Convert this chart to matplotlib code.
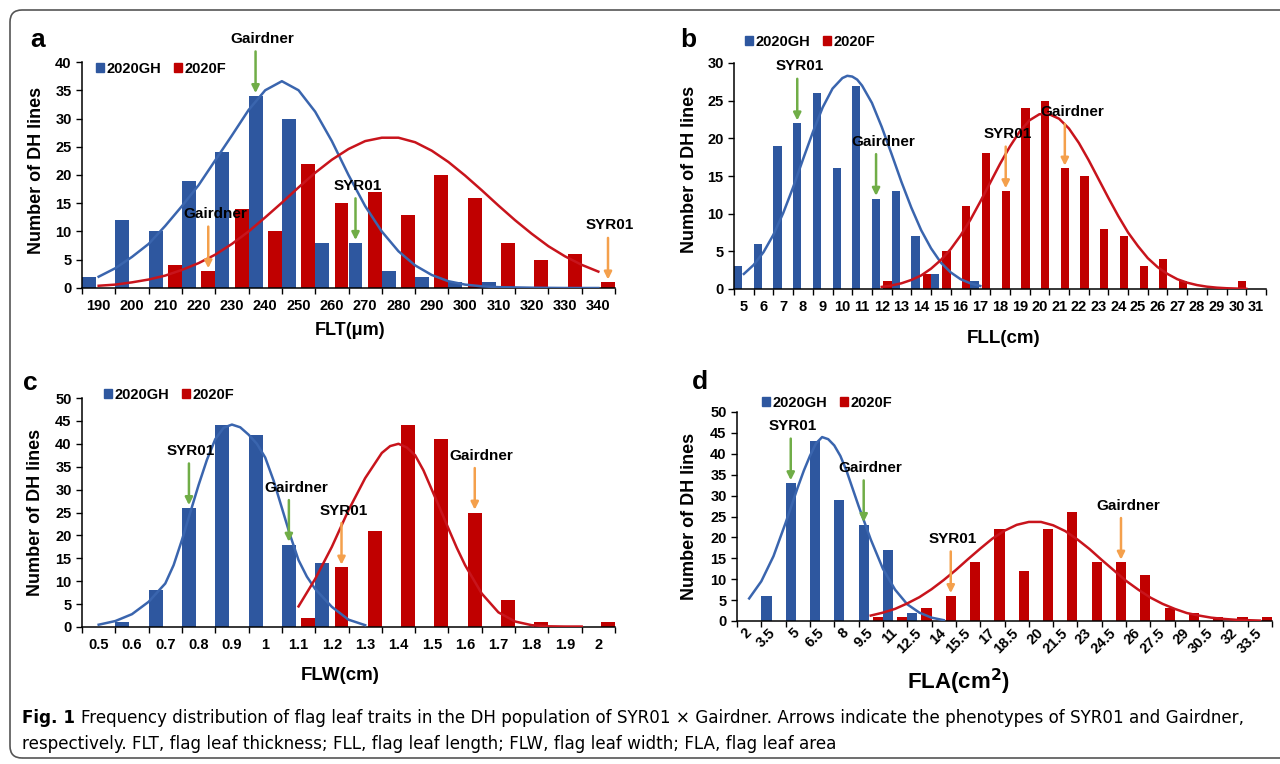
import matplotlib
matplotlib.use('Agg')
import matplotlib.pyplot as plt
from matplotlib.patches import Patch, FancyBboxPatch

# ---------------- data ----------------
# (a) flag leaf thickness, um
flt_bins = [190, 200, 210, 220, 230, 240, 250, 260, 270, 280, 290, 300, 310, 320, 330, 340]
flt_labels = ['190', '200', '210', '220', '230', '240', '250', '260', '270', '280', '290', '300',
              '310', '320', '330', '340']
flt_gh = [2, 12, 10, 19, 24, 34, 30, 8, 8, 3, 2, 1, 1, 0, 0, 0]
flt_f = [0, 0, 4, 3, 14, 10, 22, 15, 17, 13, 20, 16, 8, 5, 6, 1]
flt_gh_fit_x = [190, 195, 200, 205, 210, 215, 220, 225, 230, 235, 240, 245, 250, 255, 260, 265,
                270, 275, 280, 285, 290, 295, 300, 305, 310, 320, 330, 340]
flt_gh_fit_y = [2.0, 3.5, 5.5, 7.8, 11.0, 14.5, 18.2, 22.6, 27.0, 31.5, 35.0, 36.6, 35.0, 31.2,
                26.0, 20.0, 14.5, 10.0, 6.5, 4.0, 2.3, 1.2, 0.6, 0.3, 0.15, 0.05, 0.0, 0.0]
flt_f_fit_x = [190, 195, 200, 205, 210, 215, 220, 225, 230, 235, 240, 245, 250, 255, 260, 265,
               270, 275, 280, 285, 290, 295, 300, 305, 310, 315, 320, 325, 330, 335, 340]
flt_f_fit_y = [0.4, 0.6, 1.0, 1.5, 2.2, 3.2, 4.4, 5.9, 7.8, 10.0, 12.5, 15.1, 17.8, 20.4, 22.7,
               24.6, 26.0, 26.6, 26.6, 25.8, 24.3, 22.3, 19.9, 17.3, 14.6, 12.0, 9.6, 7.4, 5.6,
               4.1, 2.9]
flt_marks = [('Gairdner', 240, 'GH'), ('SYR01', 270, 'GH'), ('Gairdner', 220, 'F'), ('SYR01', 340, 'F')]

# (b) flag leaf length, cm
fll_bins = list(range(5, 32))
fll_labels = [str(v) for v in fll_bins]
fll_gh = [3, 6, 19, 22, 26, 16, 27, 12, 13, 7, 2, 0, 1, 0, 0, 0, 0, 0, 0, 0, 0, 0, 0, 0, 0, 0, 0]
fll_f = [0, 0, 0, 0, 0, 0, 0, 1, 0, 2, 5, 11, 18, 13, 24, 25, 16, 15, 8, 7, 3, 4, 1, 0, 0, 1, 0]
fll_gh_fit_x = [5, 5.5, 6, 6.5, 7, 7.5, 8, 8.5, 9, 9.5, 10, 10.25, 10.5, 10.75, 11, 11.5, 12,
                12.5, 13, 13.5, 14, 14.5, 15, 15.5, 16, 16.5, 17]
fll_gh_fit_y = [2.0, 3.2, 4.9, 7.2, 10.1, 13.5, 17.2, 20.8, 24.1, 26.6, 28.0, 28.3, 28.2, 27.8,
                27.0, 24.7, 21.5, 17.9, 14.2, 10.8, 7.8, 5.4, 3.5, 2.2, 1.3, 0.75, 0.4]
fll_f_fit_x = [12, 12.5, 13, 13.5, 14, 14.5, 15, 15.5, 16, 16.5, 17, 17.5, 18, 18.5, 19, 19.5,
               20, 20.5, 21, 21.5, 22, 22.5, 23, 23.5, 24, 24.5, 25, 25.5, 26, 26.5, 27, 27.5,
               28, 28.5, 29, 29.5, 30, 30.5]
fll_f_fit_y = [0.28, 0.47, 0.76, 1.2, 1.8, 2.7, 3.85, 5.3, 7.1, 9.2, 11.6, 14.1, 16.6, 18.9,
               20.9, 22.4, 23.2, 23.2, 22.6, 21.3, 19.4, 17.1, 14.6, 12.1, 9.7, 7.5, 5.7, 4.1,
               2.9, 2.0, 1.3, 0.84, 0.52, 0.31, 0.18, 0.1, 0.06, 0.03]
fll_marks = [('SYR01', 8, 'GH'), ('Gairdner', 12, 'GH'), ('SYR01', 18, 'F'), ('Gairdner', 21, 'F')]

# (c) flag leaf width, cm
flw_bins = [0.5, 0.6, 0.7, 0.8, 0.9, 1.0, 1.1, 1.2, 1.3, 1.4, 1.5, 1.6, 1.7, 1.8, 1.9, 2.0]
flw_labels = ['0.5', '0.6', '0.7', '0.8', '0.9', '1', '1.1', '1.2', '1.3', '1.4', '1.5', '1.6',
              '1.7', '1.8', '1.9', '2']
flw_gh = [0, 1, 8, 26, 44, 42, 18, 14, 0, 0, 0, 0, 0, 0, 0, 0]
flw_f = [0, 0, 0, 0, 0, 0, 2, 13, 21, 44, 41, 25, 6, 1, 0, 1]
flw_gh_fit_x = [0.5, 0.55, 0.6, 0.65, 0.7, 0.725, 0.75, 0.775, 0.8, 0.825, 0.85, 0.875, 0.9,
                0.925, 0.95, 0.975, 1.0, 1.025, 1.05, 1.075, 1.1, 1.125, 1.15, 1.2, 1.25, 1.3]
flw_gh_fit_y = [0.5, 1.3, 2.8, 5.5, 9.5, 13.5, 19.0, 25.0, 31.0, 36.5, 41.0, 43.5, 44.2, 43.6,
                42.0, 40.0, 37.0, 32.0, 26.0, 20.0, 14.6, 11.0, 8.3, 4.4, 1.6, 0.4]
flw_f_fit_x = [1.1, 1.15, 1.2, 1.25, 1.3, 1.35, 1.375, 1.4, 1.425, 1.45, 1.475, 1.5, 1.525,
               1.55, 1.575, 1.6, 1.65, 1.7, 1.75, 1.8, 1.85, 1.9, 1.95]
flw_f_fit_y = [4.5, 10.5, 17.5, 25.5, 32.5, 38.0, 39.5, 40.0, 39.2, 37.5, 34.2, 30.0, 25.8,
               21.5, 17.3, 13.5, 7.3, 3.2, 1.2, 0.4, 0.15, 0.1, 0.1]
flw_marks = [('SYR01', 0.8, 'GH'), ('Gairdner', 1.1, 'GH'), ('SYR01', 1.2, 'F'), ('Gairdner', 1.6, 'F')]

# (d) flag leaf area, cm2
fla_bins = [2, 3.5, 5, 6.5, 8, 9.5, 11, 12.5, 14, 15.5, 17, 18.5, 20, 21.5, 23, 24.5, 26, 27.5,
            29, 30.5, 32, 33.5]
fla_labels = ['2', '3.5', '5', '6.5', '8', '9.5', '11', '12.5', '14', '15.5', '17', '18.5', '20',
              '21.5', '23', '24.5', '26', '27.5', '29', '30.5', '32', '33.5']
fla_gh = [0, 6, 33, 43, 29, 23, 17, 2, 0, 0, 0, 0, 0, 0, 0, 0, 0, 0, 0, 0, 0, 0]
fla_f = [0, 0, 0, 0, 0, 1, 1, 3, 6, 14, 22, 12, 22, 26, 14, 14, 11, 3, 2, 1, 1, 1]
fla_gh_fit_x = [2, 2.75, 3.5, 4.25, 5, 5.375, 5.75, 6.125, 6.5, 6.875, 7.25, 7.625, 8, 8.75,
                9.5, 10.25, 11, 11.75, 12.5, 13.25, 14]
fla_gh_fit_y = [5.4, 9.5, 15.5, 23.5, 32.0, 36.0, 39.5, 42.5, 44.0, 43.5, 42.0, 39.5, 36.0, 27.5,
                19.5, 12.5, 7.5, 4.0, 2.0, 0.8, 0.2]
fla_f_fit_x = [9.5, 10.25, 11, 11.75, 12.5, 13.25, 14, 14.75, 15.5, 16.25, 17, 17.75, 18.5,
               19.25, 20, 20.75, 21.5, 22.25, 23, 23.75, 24.5, 25.25, 26, 26.75, 27.5, 28.25,
               29, 29.75, 30.5, 31.25, 32, 32.75, 33.5]
fla_f_fit_y = [1.3, 2.0, 2.9, 4.2, 5.7, 7.6, 9.8, 12.2, 14.8, 17.3, 19.7, 21.6, 23.0, 23.7, 23.7,
               22.9, 21.5, 19.5, 17.2, 14.6, 12.1, 9.6, 7.5, 5.6, 4.1, 2.9, 1.9, 1.3, 0.8, 0.5,
               0.3, 0.2, 0.1]
fla_marks = [('SYR01', 5, 'GH'), ('Gairdner', 9.5, 'GH'), ('SYR01', 14, 'F'), ('Gairdner', 24.5, 'F')]

# ---------------- style ----------------
plt.rcParams['font.family'] = ['Liberation Sans', 'DejaVu Sans']
plt.rcParams['font.weight'] = 'bold'

BLUE = '#2E579F'
RED = '#C00000'
BLUE_LINE = '#3A65AE'
RED_LINE = '#C8141C'
GREEN = '#70AD47'
ORANGE = '#F4A04C'

W, H = 1280, 764
fig = plt.figure(figsize=(W / 100, H / 100), dpi=100)


def px_axes(left, top, right, bottom):
    # axes box given in pixel coordinates of the 1280x764 picture
    return fig.add_axes([left / W, 1 - bottom / H, (right - left) / W, (bottom - top) / H])


def draw_panel(ax, bins, labels, gh, f, gh_fit, f_fit, marks, ymax, rotate=False):
    step = bins[1] - bins[0]
    off = 0.29 * step
    bw = 0.42 * step
    x_gh = [b - off for b in bins]
    x_f = [b + off for b in bins]
    ax.bar(x_gh, gh, width=bw, color=BLUE, zorder=2)
    ax.bar(x_f, f, width=bw, color=RED, zorder=2)
    ax.plot(gh_fit[0], gh_fit[1], color=BLUE_LINE, lw=1.8, zorder=3)
    ax.plot(f_fit[0], f_fit[1], color=RED_LINE, lw=1.8, zorder=3)

    ax.set_xlim(bins[0] - step / 2, bins[-1] + step / 2)
    ax.set_ylim(0, ymax)
    ax.set_yticks(range(0, ymax + 1, 5))

    # tick marks between the categories, labels in the middle
    edges = [b - step / 2 for b in bins] + [bins[-1] + step / 2]
    ax.set_xticks(edges)
    ax.set_xticklabels([])
    ax.set_xticks(bins, minor=True)
    if rotate:
        ax.set_xticklabels(labels, minor=True, rotation=45, ha='right',
                           rotation_mode='anchor', va='center')
    else:
        ax.set_xticklabels(labels, minor=True)
    ax.tick_params(axis='x', which='major', direction='out', length=4, width=1)
    ax.tick_params(axis='x', which='minor', length=0, pad=8, labelsize=10.5)
    ax.tick_params(axis='y', direction='out', length=4, width=1, labelsize=10.5)
    for s in ['top', 'right']:
        ax.spines[s].set_visible(False)
    for s in ['left', 'bottom']:
        ax.spines[s].set_linewidth(1.1)
    for t in ax.get_xticklabels(minor=True) + ax.get_yticklabels():
        t.set_fontweight('bold')

    # arrows for the parents
    for label, b, series in marks:
        i = bins.index(b)
        if series == 'GH':
            x, h, col = x_gh[i], gh[i], GREEN
        else:
            x, h, col = x_f[i], f[i], ORANGE
        ax.annotate('', xy=(x, h), xytext=(0, 32), textcoords='offset points',
                    arrowprops=dict(arrowstyle='-|>', color=col, lw=1.8, mutation_scale=11,
                                    shrinkA=0, shrinkB=2),
                    annotation_clip=False, zorder=4)
        dx = 5 if label == 'Gairdner' else 1.5
        ax.annotate(label, xy=(x, h), xytext=(dx, 41), textcoords='offset points',
                    ha='center', va='center', fontsize=11, fontweight='bold',
                    annotation_clip=False, zorder=5)

    ax.set_ylabel('Number of DH lines', fontsize=13, fontweight='bold', va='center')


def add_legend(ax, left, top):
    handles = [Patch(color=BLUE), Patch(color=RED)]
    ax.legend(handles, ['2020GH', '2020F'], loc='upper left', bbox_to_anchor=(left / W, 1 - top / H),
              bbox_transform=fig.transFigure, ncol=2, frameon=False, handlelength=0.55,
              handleheight=0.55, handletextpad=0.15, columnspacing=0.9, borderpad=0,
              borderaxespad=0, prop={'weight': 'bold', 'size': 10.5})


# ---------------- panels ----------------
ax_a = px_axes(82, 62, 615, 288)
draw_panel(ax_a, flt_bins, flt_labels, flt_gh, flt_f, (flt_gh_fit_x, flt_gh_fit_y),
           (flt_f_fit_x, flt_f_fit_y), flt_marks, 40)
add_legend(ax_a, 96, 62)
ax_a.set_xlabel('FLT(μm)', fontsize=13, fontweight='bold', va='center')
ax_a.xaxis.set_label_coords(0.503, -0.19)
ax_a.yaxis.set_label_coords(-0.085, 0.52)

ax_b = px_axes(734, 63, 1266, 289)
draw_panel(ax_b, fll_bins, fll_labels, fll_gh, fll_f, (fll_gh_fit_x, fll_gh_fit_y),
           (fll_f_fit_x, fll_f_fit_y), fll_marks, 30)
add_legend(ax_b, 745, 35)
ax_b.set_xlabel('FLL(cm)', fontsize=13.5, fontweight='bold', va='center')
ax_b.xaxis.set_label_coords(0.506, -0.217)
ax_b.yaxis.set_label_coords(-0.083, 0.53)

ax_c = px_axes(82, 398, 615, 627)
draw_panel(ax_c, flw_bins, flw_labels, flw_gh, flw_f, (flw_gh_fit_x, flw_gh_fit_y),
           (flw_f_fit_x, flw_f_fit_y), flw_marks, 50)
add_legend(ax_c, 104, 388)
ax_c.set_xlabel('FLW(cm)', fontsize=13.5, fontweight='bold', va='center')
ax_c.xaxis.set_label_coords(0.484, -0.21)
ax_c.yaxis.set_label_coords(-0.087, 0.5)

ax_d = px_axes(737, 412, 1272, 621)
draw_panel(ax_d, fla_bins, fla_labels, fla_gh, fla_f, (fla_gh_fit_x, fla_gh_fit_y),
           (fla_f_fit_x, fla_f_fit_y), fla_marks, 50, rotate=True)
ax_d.tick_params(axis='x', which='minor', pad=7)
add_legend(ax_d, 762, 396)
ax_d.set_xlabel('FLA(cm$^{2}$)', fontsize=16, fontweight='bold', va='center')
ax_d.xaxis.set_label_coords(0.413, -0.292)
ax_d.yaxis.set_label_coords(-0.088, 0.5)

# panel letters
for letter, x, y in [('a', 38, 40), ('b', 688, 40), ('c', 30, 383), ('d', 700, 382)]:
    fig.text(x / W, 1 - y / H, letter, fontsize=19, fontweight='bold', ha='center', va='center')

# caption
cap_font = ['DejaVu Sans']
fig.text(22 / W, 1 - 718 / H, 'Fig. 1', fontsize=12.1, fontweight='bold', va='center',
         family=cap_font)
fig.text(81 / W, 1 - 718 / H,
         'Frequency distribution of flag leaf traits in the DH population of SYR01 \u00d7 Gairdner. '
         'Arrows indicate the phenotypes of SYR01 and Gairdner,',
         fontsize=12.1, fontweight='normal', va='center', family=cap_font)
fig.text(22 / W, 1 - 744 / H,
         'respectively. FLT, flag leaf thickness; FLL, flag leaf length; FLW, flag leaf width; '
         'FLA, flag leaf area',
         fontsize=12.1, fontweight='normal', va='center', family=cap_font)

# rounded frame round the figure (right side runs off the picture)
frame = FancyBboxPatch((0.10, 0.06), 13.5, 7.48, boxstyle='round,pad=0,rounding_size=0.12',
                       transform=fig.dpi_scale_trans, fill=False, ec='#555555', lw=1.2)
fig.add_artist(frame)

plt.savefig('out.png', dpi=100)
